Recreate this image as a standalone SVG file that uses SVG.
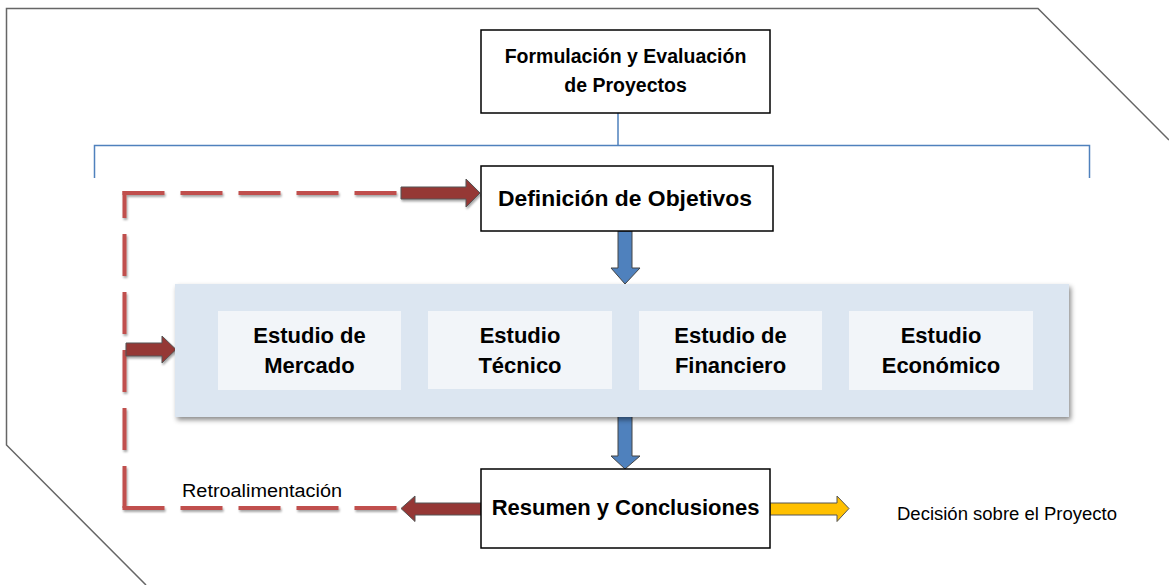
<svg xmlns="http://www.w3.org/2000/svg" width="1169" height="585" viewBox="0 0 1169 585">
<defs>
<filter id="sh" x="-10%" y="-10%" width="130%" height="140%">
<feDropShadow dx="2" dy="3" stdDeviation="2.5" flood-color="#000" flood-opacity="0.45"/>
</filter>
<filter id="shs" x="-10%" y="-50%" width="130%" height="250%">
<feDropShadow dx="1" dy="2" stdDeviation="1.2" flood-color="#000" flood-opacity="0.35"/>
</filter>
</defs>
<style>
.box{fill:#fff;stroke:#000;stroke-width:1.5}
.inner{fill:#f2f5f9}
.t{font-family:"Liberation Sans",Arial,sans-serif;font-weight:bold;fill:#000;text-anchor:middle}
.n{font-family:"Liberation Sans",Arial,sans-serif;fill:#000}
.dash{fill:none;stroke:#c0504d;stroke-width:4;stroke-dasharray:42 16}
.red{fill:#953735;stroke:#555;stroke-width:1}
.blue{fill:#4f81bd;stroke:#444;stroke-width:1}
.yel{fill:#ffc000;stroke:#555;stroke-width:1}
</style>
<rect width="1169" height="585" fill="#fff"/>
<path d="M1169,140 L1038,8.5 L6.5,8.5 L6.5,445 L146,585" fill="none" stroke="#666" stroke-width="1.5"/>

<g id="connectors">
<path d="M618,113 V145.5 M94.5,178 V145.5 H1089.5 V178" fill="none" stroke="#4f81bd" stroke-width="1.5"/>
<g filter="url(#shs)">
<path class="dash" d="M122.5,193 H401"/>
<path class="dash" d="M124.5,508 V191"/>
<path class="dash" d="M122.5,508 H401"/>
</g>
<polygon class="red" points="401,187 466,187 466,179 480,193 466,207 466,199 401,199" filter="url(#shs)"/>
<polygon class="red" points="126,343 162,343 162,336 176,349.5 162,363 162,356 126,356" filter="url(#shs)"/>
<polygon class="blue" points="618,231 632,231 632,268 640,268 625,284 611,268 618,268"/>
<polygon class="blue" points="618,416 632,416 632,456 640,456 625,469 611,456 618,456"/>
<polygon class="red" points="481,503 415,503 415,496 401,508.5 415,521.5 415,515 481,515"/>
<polygon class="yel" points="770,503 837,503 837,496 849,508.5 837,521.5 837,515 770,515"/>
</g>

<g id="formulacion">
<rect class="box" x="481" y="30" width="289" height="83"/>
<text class="t" x="625.5" y="63" font-size="19.5">Formulación y Evaluación</text>
<text class="t" x="625.5" y="92" font-size="19.5">de Proyectos</text>
</g>

<g id="definicion">
<rect class="box" x="481" y="166" width="292" height="65"/>
<text class="t" x="625" y="206" font-size="22" textLength="254" lengthAdjust="spacingAndGlyphs">Definición de Objetivos</text>
</g>

<g id="estudios">
<rect x="175" y="284" width="894" height="133" fill="#dce6f1" filter="url(#sh)"/>
<g id="mercado">
<rect class="inner" x="218" y="311" width="183" height="79"/>
<text class="t" x="309.5" y="343" font-size="22">Estudio de</text>
<text class="t" x="309.5" y="373" font-size="22">Mercado</text>
</g>
<g id="tecnico">
<rect class="inner" x="428" y="311" width="184" height="78"/>
<text class="t" x="520" y="343" font-size="22">Estudio</text>
<text class="t" x="520" y="373" font-size="22">Técnico</text>
</g>
<g id="financiero">
<rect class="inner" x="639" y="311" width="183" height="79"/>
<text class="t" x="730.5" y="343" font-size="22">Estudio de</text>
<text class="t" x="730.5" y="373" font-size="22">Financiero</text>
</g>
<g id="economico">
<rect class="inner" x="849" y="311" width="184" height="79"/>
<text class="t" x="941" y="343" font-size="22">Estudio</text>
<text class="t" x="941" y="373" font-size="22">Económico</text>
</g>
</g>

<g id="resumen">
<rect class="box" x="481" y="469" width="289" height="79"/>
<text class="t" x="625.5" y="515" font-size="22">Resumen y Conclusiones</text>
</g>

<g id="labels">
<text class="n" x="182" y="497" font-size="18" textLength="160" lengthAdjust="spacingAndGlyphs">Retroalimentación</text>
<text class="n" x="897" y="520" font-size="18" textLength="220" lengthAdjust="spacingAndGlyphs">Decisión sobre el Proyecto</text>
</g>
</svg>
